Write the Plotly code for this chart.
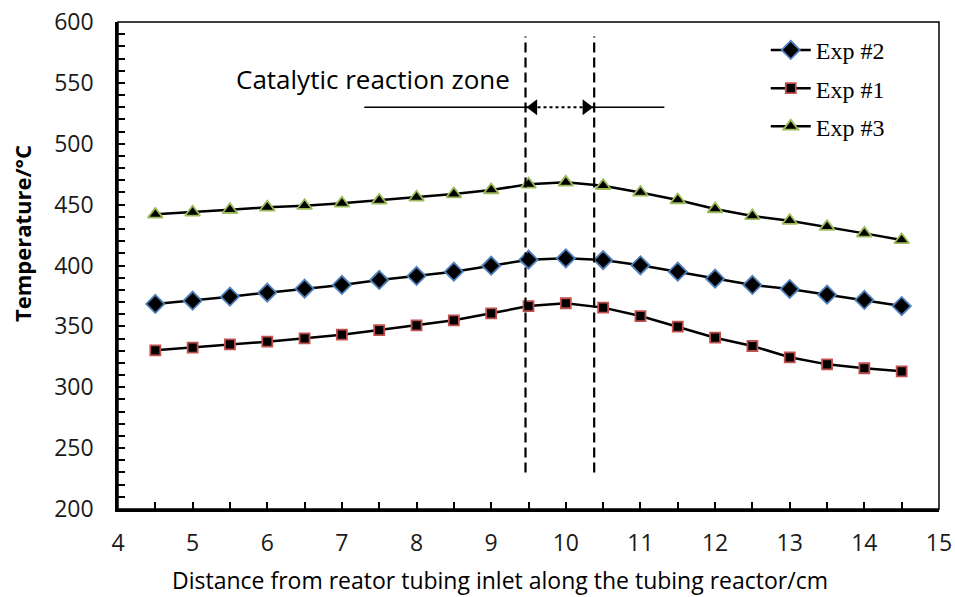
import plotly.graph_objects as go

# ---- data ----
distance_cm = [4.5, 5, 5.5, 6, 6.5, 7, 7.5, 8, 8.5, 9, 9.5, 10, 10.5, 11, 11.5, 12, 12.5, 13, 13.5, 14, 14.5]
exp2_temp = [368.4, 371.1, 374.4, 377.7, 381.0, 384.0, 388.1, 391.4, 394.9, 399.8, 404.8, 405.9,
             404.5, 400.2, 394.9, 389.2, 384.0, 380.7, 376.0, 371.7, 366.7]
exp1_temp = [330.3, 332.5, 335.2, 337.4, 340.2, 343.2, 347.0, 350.9, 355.0, 360.7, 366.7, 369.0,
             365.4, 358.5, 349.8, 340.7, 333.9, 324.6, 318.8, 315.6, 313.1]
exp3_temp = [442.0, 443.7, 445.8, 447.8, 449.1, 451.1, 453.5, 456.0, 458.7, 462.0, 466.7, 468.3,
             465.5, 460.0, 453.8, 446.4, 440.7, 436.8, 431.9, 426.4, 421.0]

x_range = [4, 15]
y_range = [200, 600]
x_ticks = [4, 5, 6, 7, 8, 9, 10, 11, 12, 13, 14, 15]
y_ticks = [200, 250, 300, 350, 400, 450, 500, 550, 600]

x_title = "Distance from reator tubing inlet along the tubing reactor/cm"
y_title = "<b>Temperature/°C</b>"

zone_start = 9.46
zone_end = 10.38
zone_line_bottom = 230
zone_line_top = 588
arrow_y = 530
arrow_left = 7.3
arrow_right = 11.32
zone_label = "Catalytic reaction zone"
zone_label_x = 7.41
zone_label_y = 553

W, H = 955, 597
ML, MR, MT, MB = 118, 16, 22, 88
plot_w = W - ML - MR
plot_h = H - MT - MB
px_per_x = plot_w / (x_range[1] - x_range[0])

LINE = "#000000"
tick_font = dict(family="Open Sans", size=23, color="#1a1a1a")

fig = go.Figure()

series = [
    ("Exp #2", exp2_temp, "diamond", 14, "#4F81BD"),
    ("Exp #1", exp1_temp, "square", 10, "#C0504D"),
    ("Exp #3", exp3_temp, "triangle-up", 13, "#9BBB59"),
]
for name, ys, sym, sz, edge in series:
    fig.add_trace(go.Scatter(
        x=distance_cm, y=ys, name=name, mode="lines+markers",
        line=dict(color=LINE, width=2.5),
        marker=dict(symbol=sym, size=sz, color="#000000", line=dict(color=edge, width=1.8)),
        legendgroup=name,
    ))

# arrowheads for the reaction zone (offset so that the tip touches the dashed line)
head_size = 14
tip_offset = (head_size / 2) * 1.155 / px_per_x
fig.add_trace(go.Scatter(
    x=[zone_start + tip_offset, zone_end - tip_offset], y=[arrow_y, arrow_y],
    mode="markers", showlegend=False, hoverinfo="skip",
    marker=dict(symbol=["triangle-left", "triangle-right"], size=head_size, color="#000000",
                line=dict(width=0)),
))

shapes = []
for xv in (zone_start, zone_end):
    shapes.append(dict(type="line", xref="x", yref="y", x0=xv, x1=xv,
                       y0=zone_line_bottom, y1=zone_line_top,
                       line=dict(color="#000000", width=2.2, dash="10px,5px")))
shapes.append(dict(type="line", xref="x", yref="y", x0=arrow_left, x1=zone_start,
                   y0=arrow_y, y1=arrow_y, line=dict(color="#000000", width=1.3)))
shapes.append(dict(type="line", xref="x", yref="y", x0=zone_end, x1=arrow_right,
                   y0=arrow_y, y1=arrow_y, line=dict(color="#000000", width=1.3)))
shapes.append(dict(type="line", xref="x", yref="y", x0=zone_start, x1=zone_end,
                   y0=arrow_y, y1=arrow_y, line=dict(color="#000000", width=2, dash="dot")))
shapes.append(dict(type="rect", xref="paper", yref="paper", x0=0, x1=1, y0=0, y1=1,
                   line=dict(color="#000000", width=1.5), layer="below"))

annotations = [
    dict(x=zone_label_x, y=zone_label_y, xref="x", yref="y", text=zone_label,
         showarrow=False, font=dict(family="Open Sans", size=26, color="#000000")),
    dict(x=(500 - ML) / plot_w, y=-(580 - (H - MB)) / plot_h, xref="paper", yref="paper",
         xanchor="center", yanchor="middle", text=x_title, showarrow=False,
         font=dict(family="Open Sans", size=23, color="#000000")),
    dict(x=(22 - ML) / plot_w, y=((H - MB) - 234) / plot_h, xref="paper", yref="paper",
         xanchor="center", yanchor="middle", text=y_title, showarrow=False, textangle=-90,
         font=dict(family="Open Sans", size=22, color="#000000")),
]

fig.update_layout(
    width=W, height=H,
    margin=dict(l=ML, r=MR, t=MT, b=MB, autoexpand=False),
    paper_bgcolor="white", plot_bgcolor="white",
    shapes=shapes,
    annotations=annotations,
    showlegend=True,
    legend=dict(x=0.789, y=0.988, xanchor="left", yanchor="top",
                font=dict(family="Liberation Serif", size=24, color="#000000"),
                bgcolor="rgba(0,0,0,0)", tracegroupgap=4, itemwidth=40),
    xaxis=dict(range=x_range, tickvals=x_ticks, ticks="inside", ticklen=7, tickwidth=1.5,
               tickcolor="#000000", showline=True, linecolor="#000000", linewidth=2.5,
               showgrid=False, zeroline=False, tickfont=tick_font, ticklabelstandoff=12,
               automargin=False,
               minor=dict(dtick=0.5, ticks="inside", ticklen=7, tickwidth=1.5, tickcolor="#000000",
                          showgrid=False)),
    yaxis=dict(range=y_range, tickvals=y_ticks, ticks="inside", ticklen=7, tickwidth=1.5,
               tickcolor="#000000", showline=True, linecolor="#000000", linewidth=2.5,
               showgrid=False, zeroline=False, tickfont=tick_font, ticklabelstandoff=17,
               automargin=False,
               minor=dict(dtick=10, ticks="inside", ticklen=7, tickwidth=1.5, tickcolor="#000000",
                          showgrid=False)),
)

fig.write_html("out.html")
